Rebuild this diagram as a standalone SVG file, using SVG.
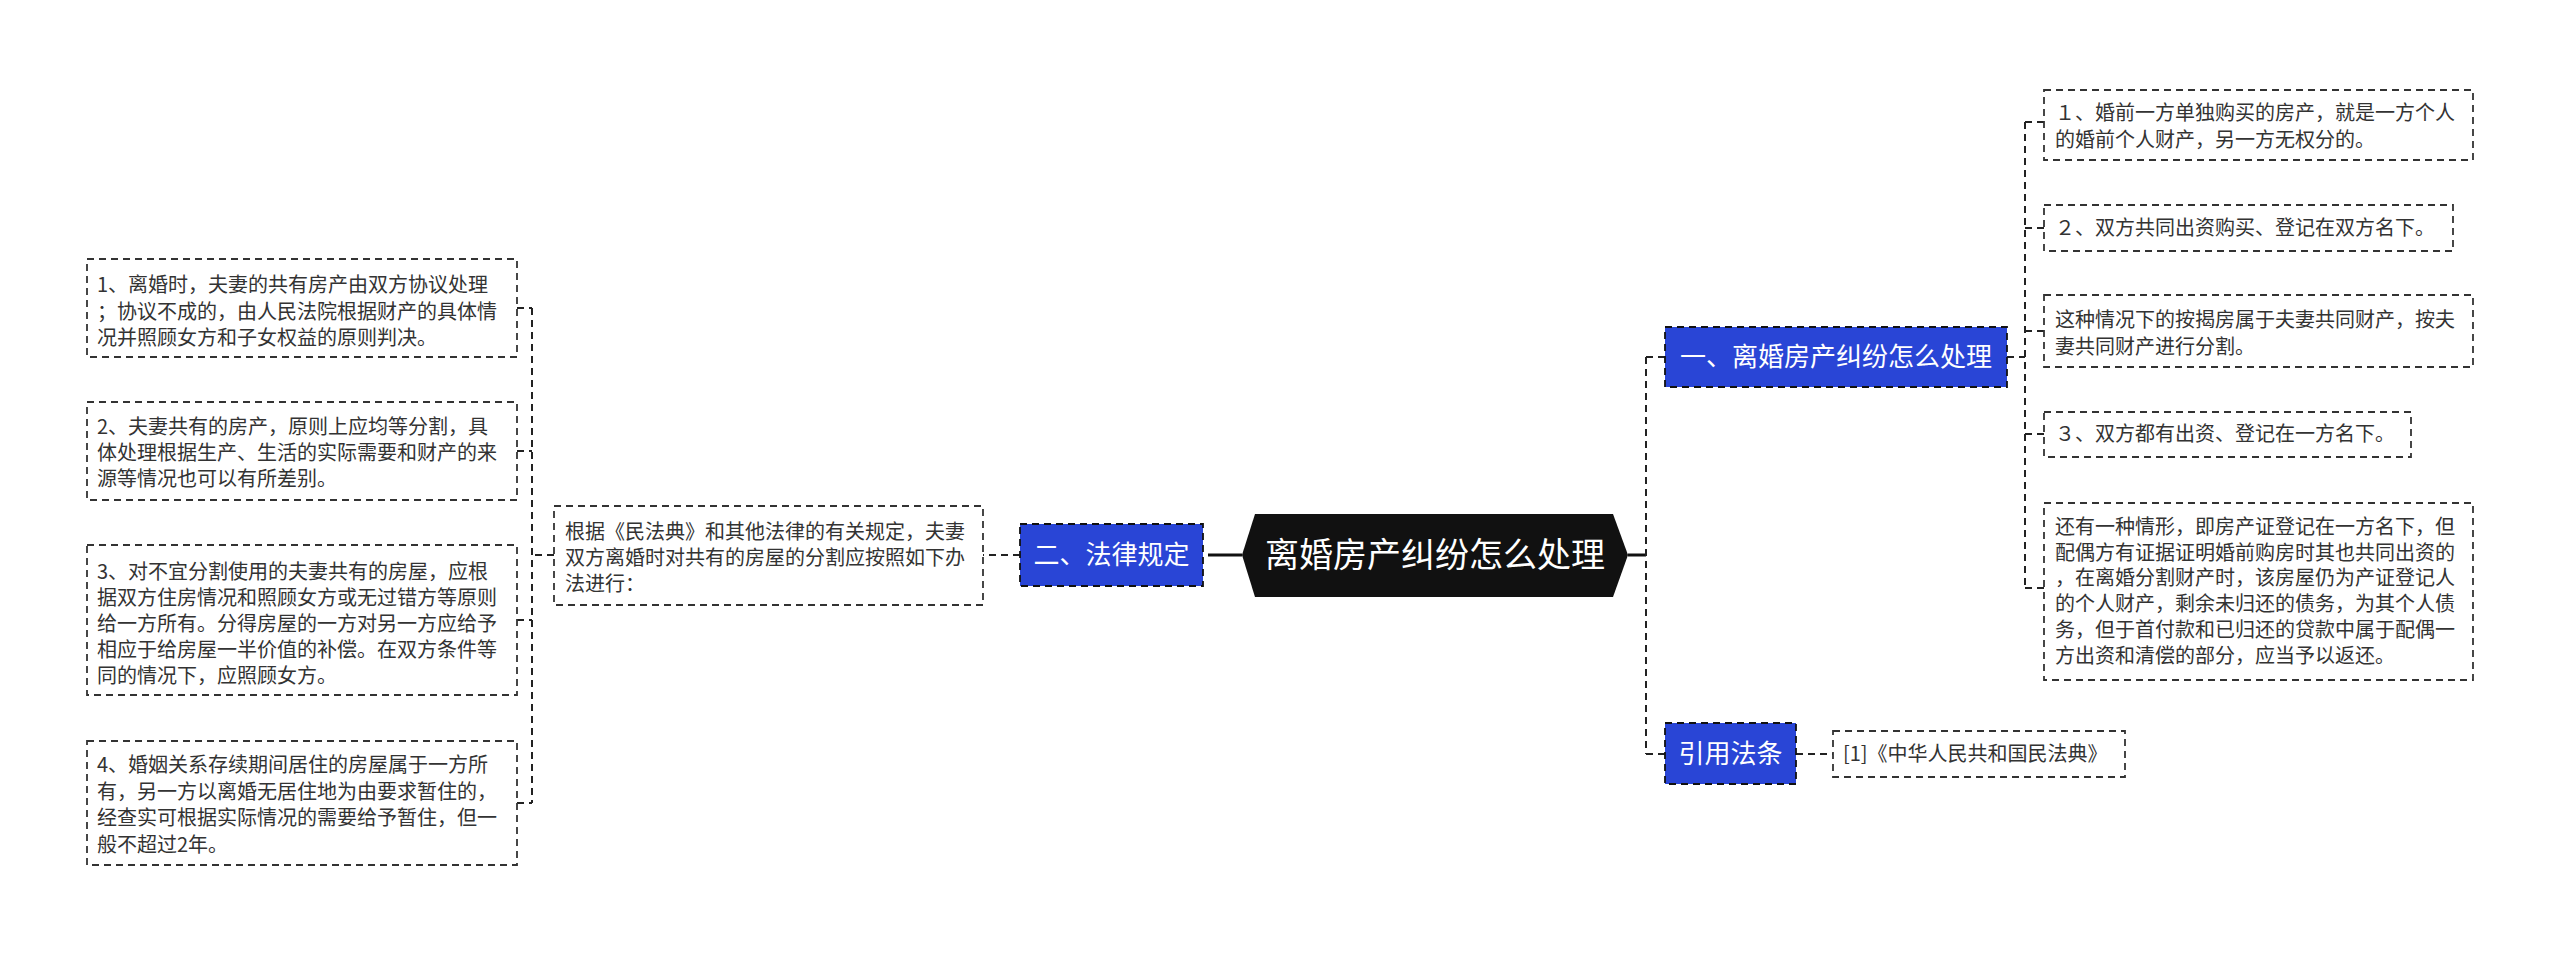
<svg xmlns="http://www.w3.org/2000/svg" width="2560" height="953" viewBox="0 0 2560 953">
<style>
text{font-family:"Noto Sans CJK SC","Noto Sans",sans-serif;}
.t{font-size:20px;fill:#333;}
.b{fill:#fff;stroke:#333;stroke-width:1.8;stroke-dasharray:7 5;}
.blue{fill:#2945d6;stroke:#111;stroke-width:1.8;stroke-dasharray:7 5;}
.bt{font-size:26px;fill:#fff;}
.c{fill:none;stroke:#222;stroke-width:2;stroke-dasharray:7 5;}
.s{fill:none;stroke:#111;stroke-width:3;}
</style>
<rect width="2560" height="953" fill="#fff"/>
<g id="connectors">
<path class="s" d="M1208 555H1242"/>
<path class="s" d="M1628 555H1646"/>
<path class="c" d="M1020 555H983"/>
<path class="c" d="M554 555H532"/>
<path class="c" d="M532 308V803"/>
<path class="c" d="M517 308H532M517 451H532M517 620H532M517 803H532"/>
<path class="c" d="M1646 357V754"/>
<path class="c" d="M1646 357H1665M1646 754H1665"/>
<path class="c" d="M1796 754H1833"/>
<path class="c" d="M2007 357H2025"/>
<path class="c" d="M2025 122V588"/>
<path class="c" d="M2025 122H2044M2025 228H2044M2025 331H2044M2025 434H2044M2025 588H2044"/>
</g>
<g id="root">
<polygon points="1242,555 1255,514 1613,514 1628,555 1613,597 1255,597" fill="#111"/>
<text x="1435" y="567" font-size="34" fill="#fff" text-anchor="middle">离婚房产纠纷怎么处理</text>
</g>
<g id="n-law">
<rect class="blue" x="1020" y="524" width="183" height="62"/>
<text class="bt" x="1111.5" y="564" text-anchor="middle">二、法律规定</text>
</g>
<g id="n-law-text">
<rect class="b" x="554" y="506" width="429" height="99"/>
<text class="t" x="565" y="539">根据《民法典》和其他法律的有关规定，夫妻</text>
<text class="t" x="565" y="565">双方离婚时对共有的房屋的分割应按照如下办</text>
<text class="t" x="565" y="591">法进行：</text>
</g>
<g id="l1">
<rect class="b" x="87" y="259" width="430" height="98"/>
<text class="t" x="97" y="292">1、离婚时，夫妻的共有房产由双方协议处理</text>
<text class="t" x="97" y="318.5">；协议不成的，由人民法院根据财产的具体情</text>
<text class="t" x="97" y="345">况并照顾女方和子女权益的原则判决。</text>
</g>
<g id="l2">
<rect class="b" x="87" y="402" width="430" height="98"/>
<text class="t" x="97" y="434">2、夫妻共有的房产，原则上应均等分割，具</text>
<text class="t" x="97" y="460">体处理根据生产、生活的实际需要和财产的来</text>
<text class="t" x="97" y="486">源等情况也可以有所差别。</text>
</g>
<g id="l3">
<rect class="b" x="87" y="545" width="430" height="150"/>
<text class="t" x="97" y="579">3、对不宜分割使用的夫妻共有的房屋，应根</text>
<text class="t" x="97" y="605">据双方住房情况和照顾女方或无过错方等原则</text>
<text class="t" x="97" y="631">给一方所有。分得房屋的一方对另一方应给予</text>
<text class="t" x="97" y="657">相应于给房屋一半价值的补偿。在双方条件等</text>
<text class="t" x="97" y="683">同的情况下，应照顾女方。</text>
</g>
<g id="l4">
<rect class="b" x="87" y="741" width="430" height="124"/>
<text class="t" x="97" y="772">4、婚姻关系存续期间居住的房屋属于一方所</text>
<text class="t" x="97" y="798.5">有，另一方以离婚无居住地为由要求暂住的，</text>
<text class="t" x="97" y="825">经查实可根据实际情况的需要给予暂住，但一</text>
<text class="t" x="97" y="851.5">般不超过2年。</text>
</g>
<g id="n-handle">
<rect class="blue" x="1665" y="327" width="342" height="60"/>
<text class="bt" x="1836" y="366" text-anchor="middle">一、离婚房产纠纷怎么处理</text>
</g>
<g id="r1">
<rect class="b" x="2044" y="90" width="429" height="70"/>
<text class="t" x="2055" y="120">１、婚前一方单独购买的房产，就是一方个人</text>
<text class="t" x="2055" y="147">的婚前个人财产，另一方无权分的。</text>
</g>
<g id="r2">
<rect class="b" x="2044" y="205" width="409" height="46"/>
<text class="t" x="2055" y="235">２、双方共同出资购买、登记在双方名下。</text>
</g>
<g id="r3">
<rect class="b" x="2044" y="295" width="429" height="72"/>
<text class="t" x="2055" y="327">这种情况下的按揭房属于夫妻共同财产，按夫</text>
<text class="t" x="2055" y="354">妻共同财产进行分割。</text>
</g>
<g id="r4">
<rect class="b" x="2044" y="412" width="367" height="45"/>
<text class="t" x="2055" y="441">３、双方都有出资、登记在一方名下。</text>
</g>
<g id="r5">
<rect class="b" x="2044" y="503" width="429" height="177"/>
<text class="t" x="2055" y="534">还有一种情形，即房产证登记在一方名下，但</text>
<text class="t" x="2055" y="559.5">配偶方有证据证明婚前购房时其也共同出资的</text>
<text class="t" x="2055" y="585">，在离婚分割财产时，该房屋仍为产证登记人</text>
<text class="t" x="2055" y="611">的个人财产，剩余未归还的债务，为其个人债</text>
<text class="t" x="2055" y="637">务，但于首付款和已归还的贷款中属于配偶一</text>
<text class="t" x="2055" y="662.5">方出资和清偿的部分，应当予以返还。</text>
</g>
<g id="n-cite">
<rect class="blue" x="1665" y="723" width="131" height="61"/>
<text class="bt" x="1730.5" y="763" text-anchor="middle">引用法条</text>
</g>
<g id="cite">
<rect class="b" x="1833" y="731" width="292" height="46"/>
<text class="t" x="1843" y="761">[1]《中华人民共和国民法典》</text>
</g>
</svg>
